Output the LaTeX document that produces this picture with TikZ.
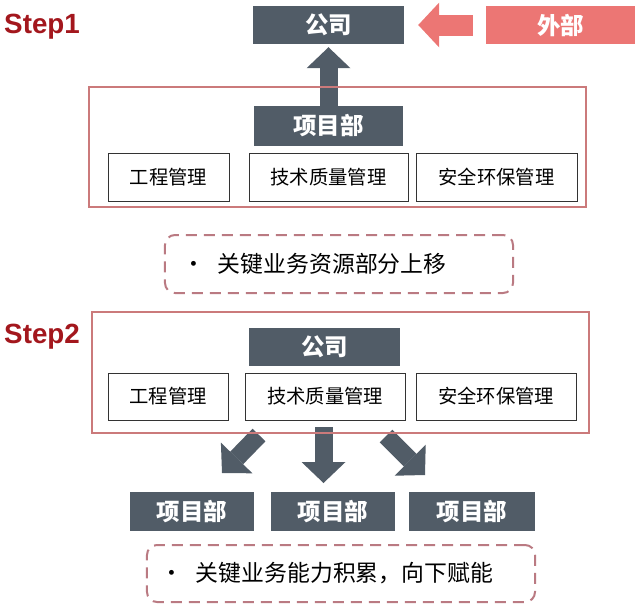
\documentclass[tikz,border=0pt]{standalone}
\usepackage{fontspec}
\setmainfont{Noto Sans CJK SC}
\newfontfamily\stepfont{Liberation Sans}
\usetikzlibrary{arrows.meta}
\definecolor{boxgray}{RGB}{81,92,103}
\definecolor{outpink}{RGB}{236,118,116}
\definecolor{framered}{RGB}{203,122,123}
\definecolor{notered}{RGB}{186,122,130}
\definecolor{steptxt}{RGB}{163,23,29}
\newcommand{\pxu}{0.03cm}

\begin{document}
\begin{tikzpicture}[x=\pxu,y=-\pxu,
    darkbox/.style={fill=boxgray, text=white, inner sep=0pt,
      font=\fontsize{20}{24}\selectfont\bfseries},
    unitbox/.style={draw=black!80, line width=0.8pt, fill=white, inner sep=0pt,
      font=\fontsize{16.5}{20}\selectfont},
    notebox/.style={draw=notered, line width=0.06cm, dash pattern=on 0.33cm off 0.21cm,
      rounded corners=0.3cm, align=left, font=\fontsize{19.5}{23}\selectfont},
    frame/.style={draw=framered, line width=0.075cm},
    steplabel/.style={text=steptxt, inner sep=0pt,
      font=\stepfont\fontsize{23.7}{28}\selectfont\bfseries},
    darrow/.style={draw=boxgray, line width=0.54cm,
      -{Triangle[length=0.63cm,width=1.32cm,line width=0pt]}},
    parrow/.style={draw=outpink, line width=0.63cm,
      -{Triangle[length=0.63cm,width=1.35cm,line width=0pt]}}]
    \useasboundingbox (0,0) rectangle (640,605);

    % Step 1
    \node[steplabel, anchor=base west] (st1) at (4,33) {Step1};
    \node[darkbox, minimum width=151*\pxu, minimum height=38*\pxu] (gs1) at (328.5,25) {公司};
    \node[darkbox, fill=outpink, minimum width=149*\pxu, minimum height=38*\pxu] (wb) at (560.5,25) {外部};
    \node[darkbox, minimum width=149*\pxu, minimum height=40*\pxu] (xmb) at (328.5,126) {项目部};
    \foreach \n/\x/\w/\t in {gc1/168.5/121/工程管理, js1/328.5/159/技术质量管理, aq1/496.5/161/安全环保管理}{
      \node[unitbox, minimum width=\w*\pxu, minimum height=48*\pxu] (\n) at (\x,177) {\t};
    }
    \node[notebox, minimum height=1.74cm, text width=9.36cm, inner xsep=0.54cm] (note1) at (339,264)
      {\makebox[1.05cm][l]{•}关键业务资源部分上移};

    % Step 2
    \node[steplabel, anchor=base west] (st2) at (4,343) {Step2};
    \node[darkbox, minimum width=151*\pxu, minimum height=38*\pxu] (gs2) at (324.5,347) {公司};
    \foreach \n/\x/\w/\t in {gc2/168/120/工程管理, js2/325/160/技术质量管理, aq2/496/160/安全环保管理}{
      \node[unitbox, minimum width=\w*\pxu, minimum height=47*\pxu] (\n) at (\x,396.5) {\t};
    }
    \foreach \n/\x/\w in {xm1/192/124, xm2/333/124, xm3/472/126}{
      \node[darkbox, minimum width=\w*\pxu, minimum height=39*\pxu] (\n) at (\x,511.5) {项目部};
    }
    \node[notebox, minimum height=1.71cm, text width=10.8cm, inner xsep=0.42cm] (note2) at (341,573.5)
      {\makebox[1.05cm][l]{•}关键业务能力积累，向下赋能};

    % block arrows
    \draw[darrow, shorten >=0.09cm] (xmb.north) -- (gs1.south);
    \draw[parrow, shorten <=0.39cm, shorten >=0.42cm] (wb.west) -- (gs1.east);
    \coordinate (la) at (259,435);
    \coordinate (lb) at (222,473);
    \coordinate (ma) at (323.5,427);
    \coordinate (mb) at (323.5,483);
    \coordinate (ra) at (386,436);
    \coordinate (rb) at (425,475);
    \draw[darrow] (la) -- (lb);
    \draw[darrow] (ma) -- (mb);
    \draw[darrow] (ra) -- (rb);

    % frames on top of the arrow shafts
    \draw[frame] (89,87) rectangle (586,207);
    \draw[frame] (92,312) rectangle (589,433);
  \end{tikzpicture}
\end{document}
